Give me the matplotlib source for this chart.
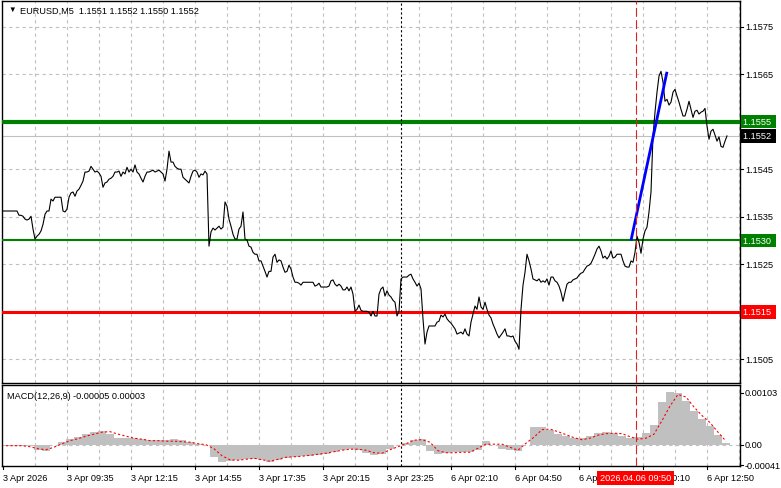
import matplotlib
matplotlib.use("Agg")
import matplotlib.pyplot as plt
import matplotlib.transforms as mtransforms
import numpy as np

plt.rcParams['font.family'] = ['Liberation Sans', 'DejaVu Sans']

# EURUSD M5 closes, one per bar
closes = [
    1.15362, 1.15362, 1.15362, 1.15362, 1.15362, 1.15362, 1.15362, 1.15362, 1.15353, 1.15353,
    1.15351, 1.15345, 1.15343, 1.15345, 1.15351, 1.15324, 1.15303, 1.15309, 1.15313, 1.15320,
    1.15334, 1.15355, 1.15362, 1.15362, 1.15387, 1.15383, 1.15391, 1.15391, 1.15391, 1.15391,
    1.15362, 1.15360, 1.15366, 1.15391, 1.15400, 1.15402, 1.15393, 1.15404, 1.15408, 1.15416,
    1.15425, 1.15444, 1.15444, 1.15446, 1.15456, 1.15450, 1.15444, 1.15446, 1.15442, 1.15435,
    1.15412, 1.15421, 1.15423, 1.15429, 1.15431, 1.15435, 1.15444, 1.15444, 1.15446, 1.15435,
    1.15444, 1.15440, 1.15454, 1.15444, 1.15450, 1.15444, 1.15459, 1.15444, 1.15440, 1.15431,
    1.15423, 1.15435, 1.15444, 1.15444, 1.15446, 1.15448, 1.15444, 1.15446, 1.15448, 1.15444,
    1.15440, 1.15425, 1.15450, 1.15488, 1.15465, 1.15465, 1.15456, 1.15452, 1.15450, 1.15450,
    1.15433, 1.15429, 1.15425, 1.15421, 1.15435, 1.15446, 1.15448, 1.15444, 1.15433, 1.15440,
    1.15438, 1.15446, 1.15440, 1.15288, 1.15318, 1.15326, 1.15322, 1.15326, 1.15330, 1.15324,
    1.15328, 1.15381, 1.15372, 1.15345, 1.15330, 1.15313, 1.15303, 1.15303, 1.15324, 1.15330,
    1.15360, 1.15303, 1.15301, 1.15288, 1.15286, 1.15275, 1.15271, 1.15271, 1.15257, 1.15257,
    1.15246, 1.15235, 1.15223, 1.15235, 1.15235, 1.15265, 1.15271, 1.15254, 1.15259, 1.15257,
    1.15244, 1.15233, 1.15235, 1.15248, 1.15240, 1.15223, 1.15212, 1.15212, 1.15210, 1.15206,
    1.15212, 1.15212, 1.15212, 1.15212, 1.15212, 1.15212, 1.15204, 1.15206, 1.15210, 1.15202,
    1.15202, 1.15202, 1.15202, 1.15204, 1.15215, 1.15217, 1.15208, 1.15204, 1.15208, 1.15204,
    1.15196, 1.15196, 1.15202, 1.15194, 1.15202, 1.15187, 1.15151, 1.15155, 1.15164, 1.15153,
    1.15151, 1.15151, 1.15151, 1.15149, 1.15141, 1.15151, 1.15141, 1.15141, 1.15187, 1.15198,
    1.15202, 1.15183, 1.15194, 1.15185, 1.15181, 1.15174, 1.15170, 1.15141, 1.15151, 1.15219,
    1.15223, 1.15223, 1.15223, 1.15227, 1.15229, 1.15219, 1.15212, 1.15204, 1.15210, 1.15198,
    1.15135, 1.15082, 1.15107, 1.15120, 1.15120, 1.15120, 1.15120, 1.15128, 1.15130, 1.15143,
    1.15139, 1.15145, 1.15135, 1.15130, 1.15126, 1.15120, 1.15114, 1.15103, 1.15105, 1.15107,
    1.15103, 1.15114, 1.15103, 1.15099, 1.15128, 1.15145, 1.15162, 1.15155, 1.15181, 1.15160,
    1.15155, 1.15170, 1.15155, 1.15143, 1.15137, 1.15124, 1.15114, 1.15103, 1.15095, 1.15101,
    1.15107, 1.15114, 1.15099, 1.15099, 1.15097, 1.15099, 1.15088, 1.15082, 1.15071, 1.15155,
    1.15206, 1.15233, 1.15271, 1.15257, 1.15240, 1.15219, 1.15217, 1.15215, 1.15219, 1.15212,
    1.15215, 1.15212, 1.15219, 1.15206, 1.15223, 1.15223, 1.15215, 1.15212, 1.15204, 1.15191,
    1.15172, 1.15191, 1.15208, 1.15212, 1.15212, 1.15217, 1.15219, 1.15221, 1.15227, 1.15231,
    1.15233, 1.15240, 1.15246, 1.15248, 1.15252, 1.15261, 1.15271, 1.15282, 1.15288, 1.15278,
    1.15263, 1.15267, 1.15261, 1.15267, 1.15278, 1.15263, 1.15265, 1.15271, 1.15271, 1.15271,
    1.15257, 1.15246, 1.15244, 1.15244, 1.15257, 1.15254, 1.15275, 1.15309, 1.15296, 1.15273,
    1.15303, 1.15320, 1.15328, 1.15360, 1.15402, 1.15520, 1.15570, 1.15612, 1.15646, 1.15656,
    1.15633, 1.15593, 1.15597, 1.15585, 1.15591, 1.15612, 1.15618, 1.15604, 1.15591, 1.15576,
    1.15562, 1.15562, 1.15576, 1.15593, 1.15576, 1.15559, 1.15572, 1.15574, 1.15566, 1.15570,
    1.15572, 1.15578, 1.15541, 1.15513, 1.15530, 1.15534, 1.15522, 1.15509, 1.15518, 1.15498,
    1.15496, 1.15509, 1.15520,
]

# MACD histogram and signal, one reading per 4 bars
macd_hist = [
    -0.00002, -0.00002, -0.00002, -0.00003, -0.00010, -0.00012, -0.00001, 0.00005, 0.00011, 0.00016,
    0.00021, 0.00026, 0.00028, 0.00021, 0.00014, 0.00013, 0.00013, 0.00012, 0.00010, 0.00010,
    0.00010, 0.00011, 0.00009, 0.00006, 0.00001, 0.00000, -0.00024, -0.00034, -0.00032, -0.00030,
    -0.00028, -0.00028, -0.00031, -0.00035, -0.00031, -0.00027, -0.00025, -0.00023, -0.00022, -0.00020,
    -0.00018, -0.00015, -0.00011, -0.00009, -0.00010, -0.00017, -0.00020, -0.00018, -0.00009, -0.00001,
    0.00004, 0.00010, 0.00011, -0.00012, -0.00018, -0.00017, -0.00015, -0.00015, -0.00014, -0.00010,
    0.00007, 0.00000, -0.00008, -0.00011, -0.00012, 0.00000, 0.00035, 0.00035, 0.00030, 0.00022,
    0.00017, 0.00013, 0.00014, 0.00018, 0.00023, 0.00026, 0.00023, 0.00018, 0.00013, 0.00016,
    0.00023, 0.00040, 0.00085, 0.00104, 0.00102, 0.00088, 0.00068, 0.00051, 0.00038, 0.00020,
    0.00003,
]
macd_signal = [
    -0.00002, -0.00002, -0.00002, -0.00004, -0.00008, -0.00010, -0.00005, 0.00002, 0.00008, 0.00012,
    0.00017, 0.00021, 0.00025, 0.00026, 0.00021, 0.00017, 0.00013, 0.00011, 0.00008, 0.00008,
    0.00007, 0.00007, 0.00006, 0.00005, 0.00002, 0.00000, -0.00008, -0.00022, -0.00030, -0.00031,
    -0.00029, -0.00027, -0.00030, -0.00033, -0.00029, -0.00025, -0.00024, -0.00023, -0.00021, -0.00019,
    -0.00017, -0.00014, -0.00011, -0.00009, -0.00009, -0.00011, -0.00016, -0.00017, -0.00010, -0.00004,
    0.00002, 0.00009, 0.00010, 0.00005, -0.00012, -0.00016, -0.00016, -0.00015, -0.00015, -0.00007,
    0.00001, 0.00001, 0.00001, -0.00005, -0.00011, 0.00003, 0.00015, 0.00030, 0.00031, 0.00026,
    0.00020, 0.00014, 0.00010, 0.00013, 0.00019, 0.00022, 0.00023, 0.00022, 0.00016, 0.00011,
    0.00013, 0.00021, 0.00048, 0.00077, 0.00100, 0.00095, 0.00075, 0.00058, 0.00044, 0.00025,
    0.00007,
]

time_labels = ["3 Apr 2026", "3 Apr 09:35", "3 Apr 12:15", "3 Apr 14:55", "3 Apr 17:35",
               "3 Apr 20:15", "3 Apr 23:25", "6 Apr 02:10", "6 Apr 04:50", "6 Apr 07:30",
               "6 Apr 10:10", "6 Apr 12:50"]
price_ticks = [1.1575, 1.1565, 1.1555, 1.1545, 1.1535, 1.1525, 1.1515, 1.1505]
level_hi, level_mid, level_lo, last_price = 1.1555, 1.1530, 1.1515, 1.1552
trend_bars = [314, 332]
trend_prices = [1.15300, 1.15655]
sep_bar, cursor_bar = 199, 316.25

W, H = 781, 489
fig = plt.figure(figsize=(W / 100, H / 100), dpi=100)
fig.patch.set_facecolor("white")

ax = fig.add_axes([2 / W, 1 - 384 / H, 738 / W, 382 / H])
ax2 = fig.add_axes([2 / W, 1 - 467 / H, 738 / W, 81 / H])

grid_kw = dict(color="#c0c0c0", lw=0.8, ls=(0, (3, 3)), zorder=0)
n = len(closes)
for a in (ax, ax2):
    for b in range(16, 369, 16):
        a.axvline(b, **grid_kw)
    a.set_xlim(-0.5, 368.5)
    for s in a.spines.values():
        s.set_color("black")
        s.set_linewidth(1)
    a.set_xticks([])
    a.set_yticks([])
for p in price_ticks:
    ax.axhline(p, **grid_kw)
ax2.axhline(0, **grid_kw)

ax.set_ylim(1.15000, 1.15804)
ax2.set_ylim(-0.000424, 0.001189)

# levels
ax.axhline(last_price, color="#c0c0c0", lw=0.8, zorder=1)
ax.axhline(level_hi, color="#008000", lw=3.0, zorder=3)
ax.axhline(level_mid, color="#008000", lw=1.5, zorder=3)
ax.axhline(level_lo, color="#ff0000", lw=2.2, zorder=3)

ax.plot(range(n), closes, color="black", lw=0.8, zorder=4)
ax.plot(trend_bars, trend_prices, color="#0000ff", lw=2.0, zorder=5, solid_capstyle="butt")

for a in (ax, ax2):
    a.axvline(sep_bar, color="black", lw=0.8, ls=(0, (2, 2)), zorder=6)
    a.axvline(cursor_bar, color="#dd2222", lw=0.8, ls=(0, (8, 3)), zorder=6)

# MACD
centers = np.arange(len(macd_hist)) * 4 + 1.5
ax2.bar(centers, macd_hist, width=4, color="#c0c0c0", linewidth=0, zorder=2)
ax2.plot(centers, macd_signal, color="#ff0000", lw=0.8, ls=(0, (2, 2)), zorder=3)

fs = 6.6
ax.text(6 / 738, 1 - 8 / 382, "\u25bc", transform=ax.transAxes, fontsize=5.5, va="center", ha="left")
ax.text(18 / 738, 1 - 9 / 382, "EURUSD,M5  1.1551 1.1552 1.1550 1.1552", transform=ax.transAxes,
        fontsize=fs, va="center", ha="left")
ax2.text(5 / 738, 1 - 11 / 81, "MACD(12,26,9) -0.00005 0.00003", transform=ax2.transAxes,
         fontsize=fs, va="center", ha="left")

# right price scale
tr = mtransforms.blended_transform_factory(ax.transAxes, ax.transData)
xr = 1 + 5 / 738
for p in price_ticks:
    ax.plot([1, 1 + 3 / 738], [p, p], transform=tr, color="black", lw=0.8, clip_on=False)
    if p in (level_hi, level_lo):
        continue
    ax.text(xr, p, f"{p:.4f}", transform=tr, fontsize=fs, va="center", ha="left")
boxes = [(level_hi, "#008000"), (last_price, "black"), (level_mid, "#008000"), (level_lo, "#ff0000")]
for p, c in boxes:
    ax.text(1 + 3 / 738, p, f"{p:.4f} ", transform=tr, fontsize=fs, va="center", ha="left",
            color="white", zorder=10, clip_on=False,
            bbox=dict(boxstyle="square,pad=0.25", fc=c, ec="none"))

tr2 = mtransforms.blended_transform_factory(ax2.transAxes, ax2.transData)
for v, lab in [(0.00103, "0.00103"), (0.0, "0.00"), (-0.00041, "-0.00041")]:
    ax2.plot([1, 1 + 3 / 738], [v, v], transform=tr2, color="black", lw=0.8, clip_on=False)
    ax2.text(1 + 5 / 738, v, lab, transform=tr2, fontsize=fs, va="center", ha="left")

# time axis
trx = mtransforms.blended_transform_factory(ax2.transData, ax2.transAxes)
for k, lab in enumerate(time_labels):
    b = 32 * k
    ax2.plot([b, b], [0, -3 / 81], transform=trx, color="black", lw=0.8, clip_on=False)
    ax2.text(b, -12 / 81, lab, transform=trx, fontsize=fs, va="center", ha="left")
ax2.text(cursor_bar, -12 / 81, "2026.04.06 09:50", transform=trx, fontsize=fs, va="center",
         ha="center", color="white", zorder=10,
         bbox=dict(boxstyle="square,pad=0.3", fc="#ff0000", ec="none"))

fig.savefig("out.png", dpi=100)
